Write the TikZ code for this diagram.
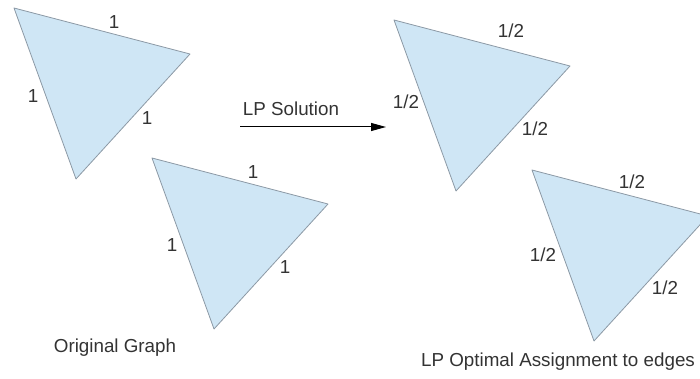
\documentclass[tikz,border=0pt]{standalone}
\usepackage{fontspec}
\setmainfont{Liberation Sans}
\usetikzlibrary{arrows.meta}
\definecolor{lpfill}{HTML}{CFE6F5}
\definecolor{lpedge}{HTML}{8C99A5}
\definecolor{lptext}{HTML}{333333}
\tikzset{
  lptri/.style={fill=lpfill, draw=lpedge, line width=0.8pt, line join=round},
  lplabel/.style={text=lptext, inner sep=0pt, font=\fontsize{18.8}{22}\selectfont},
  lparrow/.style={-{Triangle[length=15pt,width=8pt]}, line width=1pt, black},
}

\begin{document}
\begin{tikzpicture}[x=1pt, y=-1pt]
  \useasboundingbox (0,0) rectangle (700,379);
  \clip (0,0) rectangle (700,379);

  % the four triangles
  \foreach \ox/\oy in {14/8, 152/158, 394/20, 532/170}
    \filldraw[lptri] (\ox,\oy) -- ++(176,46) -- ++(-114,125) -- cycle;

  % original graph
  \node[lplabel] (a1) at (114,22) {1};
  \node[lplabel] (a2) at (33,96) {1};
  \node[lplabel] (a3) at (147,118) {1};
  \node[lplabel] (b1) at (253,172) {1};
  \node[lplabel] (b2) at (172,245) {1};
  \node[lplabel] (b3) at (285,267) {1};
  \node[lplabel] (orig) at (115,348) {Original Graph};

  % LP solution
  \node[lplabel] (c1) at (511,31) {1/2};
  \node[lplabel] (c2) at (406,102) {1/2};
  \node[lplabel] (c3) at (535,129) {1/2};
  \node[lplabel] (d1) at (632,182) {1/2};
  \node[lplabel] (d2) at (543,255) {1/2};
  \node[lplabel] (d3) at (665,288) {1/2};
  \node[lplabel] (opt) at (558,362) {LP Optimal Assignment to edges};

  \node[lplabel] (sol) at (291,109) {LP Solution};
  \coordinate (arrS) at (240,127);
  \coordinate (arrE) at (386,127);
  \draw[lparrow] (arrS) -- (arrE);
\end{tikzpicture}
\end{document}
